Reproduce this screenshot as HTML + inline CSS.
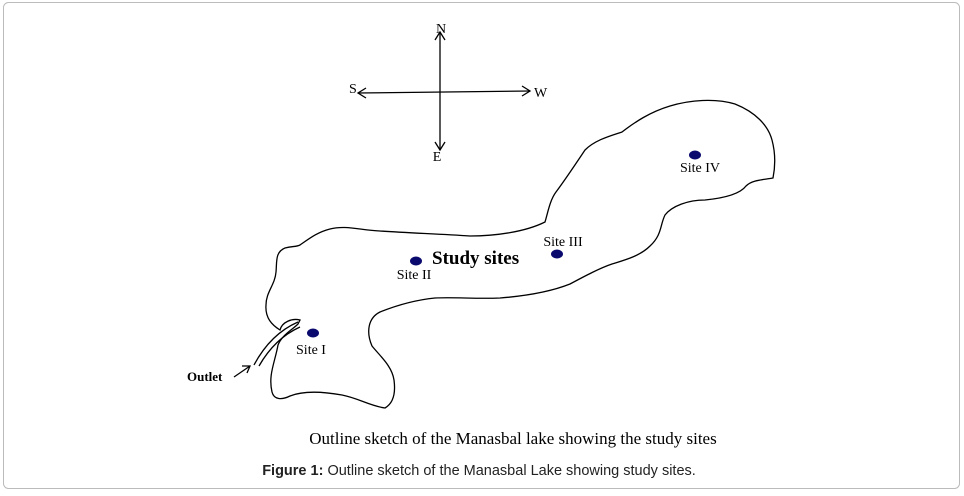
<!DOCTYPE html>
<html><head><style>
body{margin:0;background:#fff;}
svg{display:block;}
</style></head><body>
<svg width="964" height="496" viewBox="0 0 964 496" xmlns="http://www.w3.org/2000/svg">
<rect x="3.5" y="2.5" width="956" height="486" rx="5" fill="#fff" stroke="#bbb"/>
<g stroke="#000" stroke-width="1.3" fill="none">
<line x1="440" y1="32" x2="440" y2="150"/>
<polyline points="435,40 440,32 445,40"/>
<polyline points="435,142 440,150 445,142"/>
<line x1="358" y1="93" x2="530" y2="91"/>
<polyline points="366,88 358,93 366,98"/>
<polyline points="522,86 530,91 522,96"/>
<path d="M300,245 C310,238 318,232 330,229 C345,225 360,230 380,231 C410,233 440,234 470,236 C495,236 525,232 545,222 C548,212 550,200 556,192 C565,180 575,165 585,150 C595,140 610,136 622,132 C635,122 650,112 670,106 C690,100 715,98 735,104 C755,112 768,125 772,140 C776,155 775,168 773,178 C762,180 752,180 746,186 C740,194 725,198 705,200 C688,200 672,206 665,215 C660,225 662,235 650,246 C640,256 625,260 612,264 C600,268 585,276 570,284 C550,292 525,296 500,298 C475,299 455,297 435,298 C415,300 395,306 380,312 C368,318 366,332 372,346 C380,356 392,366 394,380 C396,395 392,404 385,408 C370,406 358,398 342,395 C325,392 305,390 290,396 C282,400 274,400 272,392 C268,375 275,362 278,345 C282,335 292,330 298,324 L300,320 C292,318 282,322 280,330 C272,325 265,318 266,305 C266,292 275,285 276,272 C277,262 275,252 285,248 C292,246 296,247 300,245 Z"/>
<path d="M254,365 C262,350 275,332 298,322"/>
<path d="M259,366 C267,352 280,336 300,327"/>
<line x1="234" y1="377" x2="250" y2="366"/>
<polyline points="242,366 250,366 247,373"/>
</g>
<g fill="#0a0a6e">
<ellipse cx="313" cy="333" rx="6" ry="4.5"/>
<ellipse cx="416" cy="261" rx="6" ry="4.5"/>
<ellipse cx="557" cy="254" rx="6" ry="4.5"/>
<ellipse cx="695" cy="155" rx="6" ry="4.5"/>
</g>
<g font-family="Liberation Serif, serif" font-size="14" fill="#000">
<text x="441" y="33" text-anchor="middle">N</text>
<text x="349" y="93">S</text>
<text x="534" y="97">W</text>
<text x="437" y="161" text-anchor="middle">E</text>
<text x="311" y="354" text-anchor="middle">Site I</text>
<text x="414" y="279" text-anchor="middle">Site II</text>
<text x="563" y="246" text-anchor="middle">Site III</text>
<text x="700" y="172" text-anchor="middle">Site IV</text>
<text x="432" y="264" font-size="19" font-weight="bold">Study sites</text>
<text x="187" y="381" font-size="13" font-weight="bold">Outlet</text>
<text x="513" y="444" text-anchor="middle" font-size="17">Outline sketch of the Manasbal lake showing the study sites</text>
</g>
<text x="479" y="475" text-anchor="middle" font-family="Liberation Sans, sans-serif" font-size="14.5" fill="#222"><tspan font-weight="bold">Figure 1:</tspan> Outline sketch of the Manasbal Lake showing study sites.</text>
</svg>
</body></html>
